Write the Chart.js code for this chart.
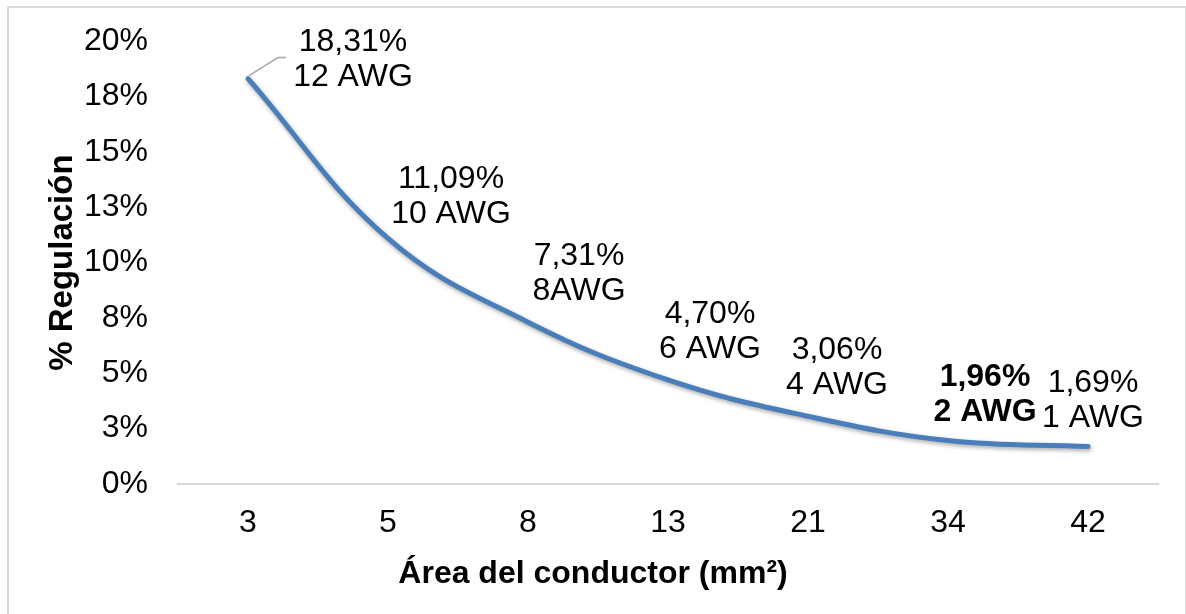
<!DOCTYPE html>
<html>
<head>
<meta charset="utf-8">
<script src="https://cdn.jsdelivr.net/npm/chart.js@4.4.1/dist/chart.umd.min.js"></script>
<style>
  body { margin: 0; background: #fff; }
  .wrap { position: relative; width: 1186px; height: 614px; }
  .frame { position: absolute; left: 7px; top: 6px; width: 1180px; height: 620px; border: 2px solid #d9d9d9; box-sizing: border-box; pointer-events: none; }
</style>
</head>
<body>
<div class="wrap">
  <canvas id="regChart" width="1186" height="614"></canvas>
  <div class="frame"></div>
</div>
<script>
const areas = ['3', '5', '8', '13', '21', '34', '42'];
const regulation = [18.31, 11.09, 7.31, 4.70, 3.06, 1.96, 1.69];
const pctLabels = ['18,31%', '11,09%', '7,31%', '4,70%', '3,06%', '1,96%', '1,69%'];
const gaugeLabels = ['12 AWG', '10 AWG', '8AWG', '6 AWG', '4 AWG', '2 AWG', '1 AWG'];
const boldIndex = 5;
const xTitle = 'Área del conductor (mm²)';
const yTitle = '% Regulación';

// label placement relative to each point (px)
const labelOffsets = [[105, -36], [63, -59], [51, -66], [42, -66], [29, -66], [37, -63], [5, -63]];

const font = 'Liberation Sans, Arial, sans-serif';

const lineShadow = {
    id: 'lineShadow',
    beforeDatasetDraw(chart) {
        const c = chart.ctx;
        c.save();
        c.shadowColor = 'rgba(0,0,0,0.35)';
        c.shadowBlur = 4;
        c.shadowOffsetX = 1;
        c.shadowOffsetY = 2;
    },
    afterDatasetDraw(chart) {
        chart.ctx.restore();
    }
};

const pointLabels = {
    id: 'pointLabels',
    afterDatasetsDraw(chart) {
        const c = chart.ctx;
        const pts = chart.getDatasetMeta(0).data;
        c.save();
        c.fillStyle = '#000';
        c.textAlign = 'center';
        c.textBaseline = 'middle';
        pts.forEach((p, i) => {
            const x = p.x + labelOffsets[i][0];
            const y = p.y + labelOffsets[i][1];
            c.font = (i === boldIndex ? 'bold ' : '') + '32px ' + font;
            c.fillText(pctLabels[i], x, y);
            c.fillText(gaugeLabels[i], x, y + 35);
        });
        // leader line for the first label
        const p0 = pts[0];
        c.strokeStyle = '#a6a6a6';
        c.lineWidth = 1.5;
        c.beginPath();
        c.moveTo(p0.x + 1, p0.y - 3);
        c.lineTo(p0.x + 30, p0.y - 21);
        c.lineTo(p0.x + 38, p0.y - 21);
        c.stroke();

        // x axis title, centred on the whole chart like the original
        c.font = 'bold 32px ' + font;
        c.fillText(xTitle, chart.width / 2, 574);
        c.restore();
    }
};

const ctx = document.getElementById('regChart').getContext('2d');

new Chart(ctx, {
    type: 'line',
    data: {
        labels: areas,
        datasets: [{
            data: regulation,
            borderColor: '#4a7ebb',
            borderWidth: 5,
            borderCapStyle: 'round',
            tension: 0.4,
            pointRadius: 0,
            fill: false
        }]
    },
    options: {
        responsive: false,
        animation: false,
        layout: { padding: { top: 39, right: 28, left: 0, bottom: 0 } },
        plugins: {
            legend: { display: false },
            tooltip: { enabled: false }
        },
        scales: {
            x: {
                offset: true,
                grid: { display: false, offset: true },
                border: { display: true, color: '#d9d9d9', width: 2 },
                ticks: { color: '#000', font: { family: font, size: 32 }, padding: 12, maxRotation: 0 },
                afterFit: s => { s.height = 130; }
            },
            y: {
                min: 0,
                max: 20,
                grid: { display: false },
                border: { display: false },
                ticks: {
                    stepSize: 2.5,
                    color: '#000',
                    font: { family: font, size: 32 },
                    padding: 22,
                    callback: v => Math.round(v) + '%'
                },
                title: {
                    display: true,
                    text: yTitle,
                    color: '#000',
                    font: { family: font, size: 33, weight: 'bold' },
                    padding: { top: 43, bottom: 0 }
                },
                afterFit: s => { s.width = 178; }
            }
        }
    },
    plugins: [lineShadow, pointLabels]
});
</script>
</body>
</html>
